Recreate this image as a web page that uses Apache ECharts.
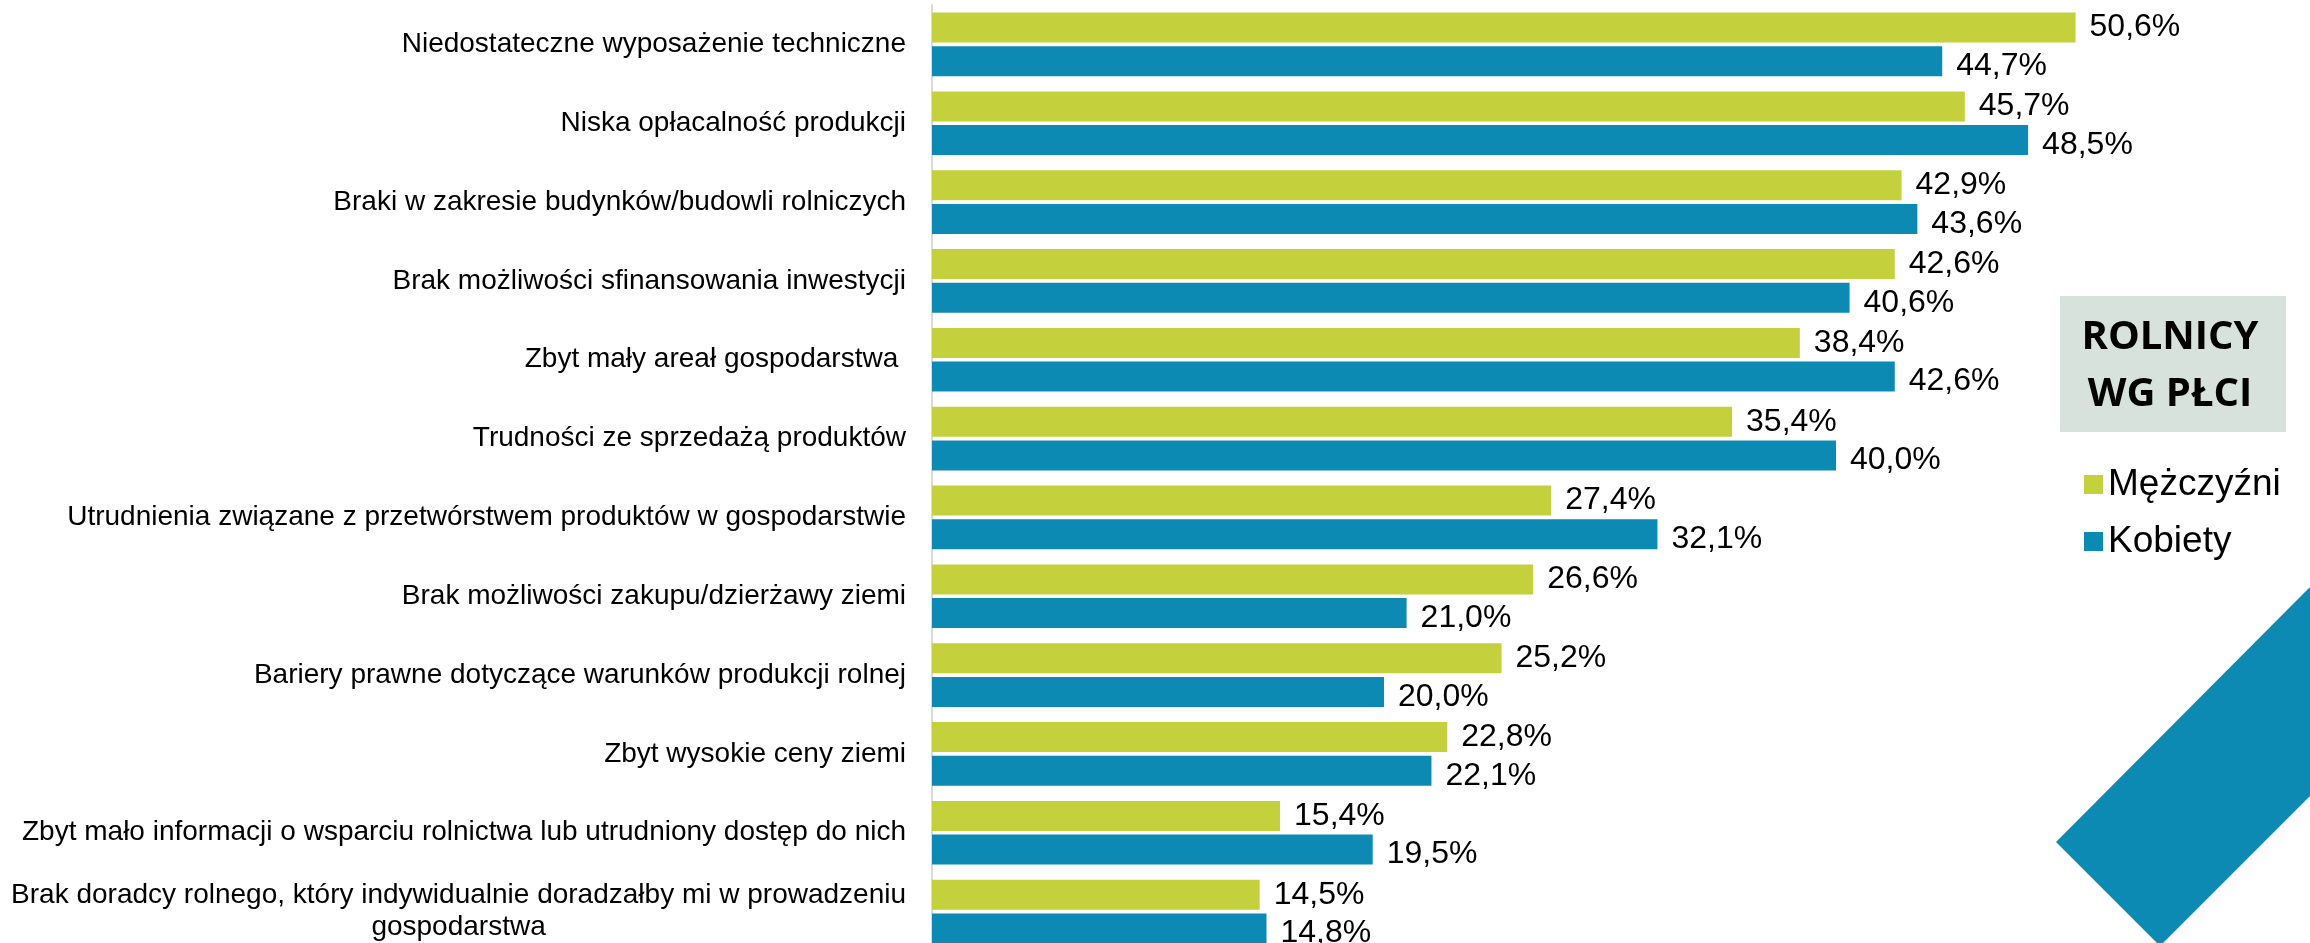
<!DOCTYPE html>
<html>
<head>
<meta charset="utf-8">
<script src="https://cdn.jsdelivr.net/npm/echarts@6/dist/echarts.min.js"></script>
<style>
html,body{margin:0;padding:0;background:#fff;}
#chart{width:2310px;height:943px;}
</style>
</head>
<body>
<div id="chart"></div>
<script>
const categories = [
  'Niedostateczne wyposażenie techniczne',
  'Niska opłacalność produkcji',
  'Braki w zakresie budynków/budowli rolniczych',
  'Brak możliwości sfinansowania inwestycji',
  'Zbyt mały areał gospodarstwa ',
  'Trudności ze sprzedażą produktów',
  'Utrudnienia związane z przetwórstwem produktów w gospodarstwie',
  'Brak możliwości zakupu/dzierżawy ziemi',
  'Bariery prawne dotyczące warunków produkcji rolnej',
  'Zbyt wysokie ceny ziemi',
  'Zbyt mało informacji o wsparciu rolnictwa lub utrudniony dostęp do nich',
  'Brak doradcy rolnego, który indywidualnie doradzałby mi w prowadzeniu\ngospodarstwa'
];
const menValues = [50.6, 45.7, 42.9, 42.6, 38.4, 35.4, 27.4, 26.6, 25.2, 22.8, 15.4, 14.5];
const womenValues = [44.7, 48.5, 43.6, 40.6, 42.6, 40.0, 32.1, 21.0, 20.0, 22.1, 19.5, 14.8];
const seriesNames = ['Mężczyźni', 'Kobiety'];
const titleLines = ['ROLNICY', 'WG PŁCI'];

const GREEN = '#C4D13C';
const BLUE = '#0C8AB3';
const FONT = '"Liberation Sans", Arial, sans-serif';
const CAT_SIZE = 28;

// measure first line of multi-line labels to center second line under it
const ctx = document.createElement('canvas').getContext('2d');
ctx.font = CAT_SIZE + 'px "Liberation Sans", Arial, sans-serif';
const catFormatter = function (value) {
  if (value.indexOf('\n') < 0) return value;
  const parts = value.split('\n');
  return parts[0] + '\n{c|' + parts[1] + '}';
};
let longest = 0;
categories.forEach(c => {
  if (c.indexOf('\n') >= 0) {
    longest = Math.max(longest, ctx.measureText(c.split('\n')[0]).width);
  }
});
const richStyles = {
  c: { width: longest, align: 'center', fontSize: CAT_SIZE, fontFamily: FONT, color: '#000', lineHeight: 32 }
};

const fmt = p => p.value.toFixed(1).replace('.', ',') + '%';

const chart = echarts.init(document.getElementById('chart'), null, { renderer: 'canvas' });
chart.setOption({
  animation: false,
  backgroundColor: '#fff',
  grid: { left: 932, top: 5, width: 1356, height: 946, containLabel: false, outerBoundsMode: 'none' },
  xAxis: { type: 'value', min: 0, max: 60, show: false, splitLine: { show: false } },
  yAxis: {
    type: 'category',
    inverse: true,
    data: categories,
    axisTick: { show: false },
    axisLine: { show: true, lineStyle: { color: '#D9D9D9', width: 2 } },
    axisLabel: {
      margin: 26,
      color: '#000',
      fontSize: CAT_SIZE,
      fontFamily: FONT,
      lineHeight: 32,
      formatter: catFormatter,
      rich: richStyles
    },
    splitLine: { show: false }
  },
  legend: {
    data: seriesNames,
    orient: 'vertical',
    left: 2079,
    top: 461,
    icon: 'rect',
    itemWidth: 19,
    itemHeight: 19,
    itemGap: 20,
    textStyle: { fontSize: 37, fontFamily: FONT, color: '#000', lineHeight: 36 }
  },
  series: [
    {
      name: seriesNames[0],
      type: 'bar',
      data: menValues,
      barWidth: 30,
      barGap: '12%',
      itemStyle: { color: GREEN },
      label: {
        show: true, position: 'right', distance: 14, formatter: fmt,
        color: '#000', fontSize: 32, fontFamily: FONT, offset: [0, 0]
      }
    },
    {
      name: seriesNames[1],
      type: 'bar',
      data: womenValues,
      barWidth: 30,
      barGap: '12%',
      itemStyle: { color: BLUE },
      label: {
        show: true, position: 'right', distance: 14, formatter: fmt,
        color: '#000', fontSize: 32, fontFamily: FONT, offset: [0, 5]
      }
    }
  ],
  graphic: [
    {
      type: 'rect',
      shape: { x: 2060, y: 296, width: 226, height: 136 },
      style: { fill: '#D7E2DC' },
      z: 5
    },
    {
      type: 'text',
      x: 2170, y: 366,
      style: {
        text: titleLines.join('\n'),
        fill: '#000',
        font: 'bold 40px "Open Sans", "Noto Sans", sans-serif',
        lineHeight: 57,
        align: 'center',
        verticalAlign: 'middle'
      },
      z: 6
    },
    {
      type: 'polygon',
      shape: { points: [[2311, 586], [2056, 842], [2160, 946], [2311, 795]] },
      style: { fill: BLUE },
      z: 5
    }
  ]
});
</script>
</body>
</html>
